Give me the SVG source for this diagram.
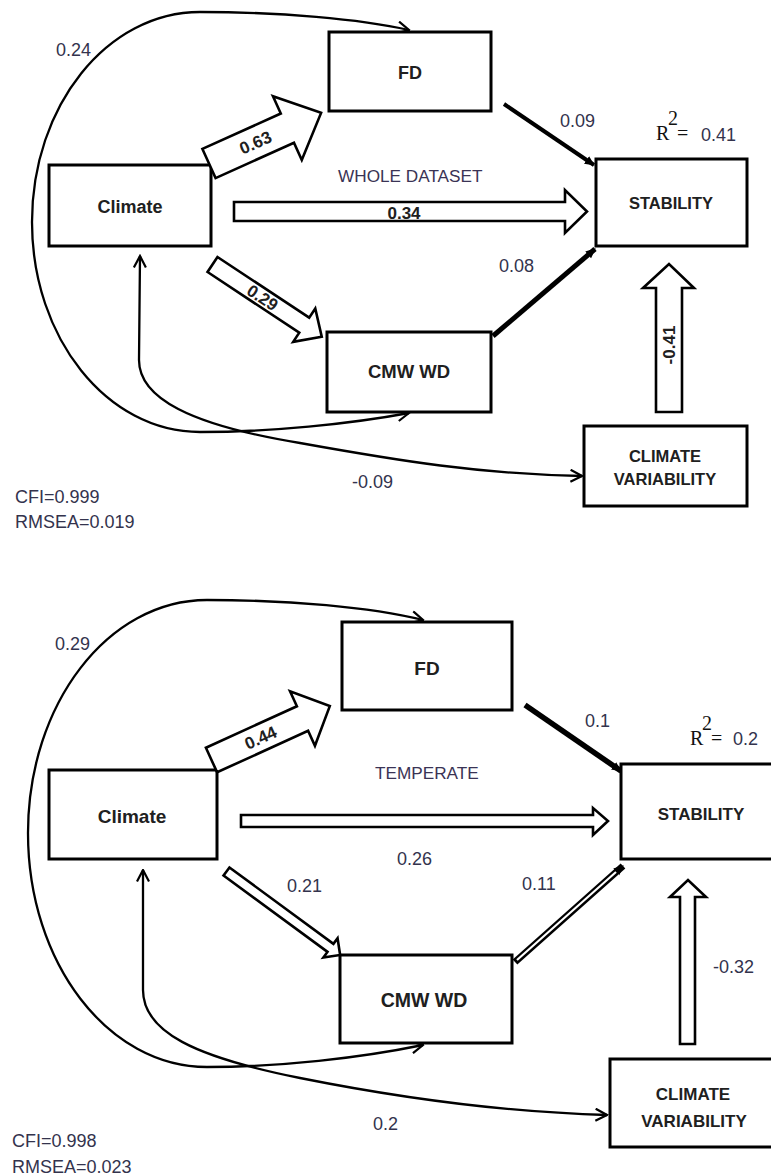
<svg xmlns="http://www.w3.org/2000/svg" width="771" height="1176" viewBox="0 0 771 1176">
<style>
.t{font-family:"Liberation Sans",Arial,sans-serif;font-size:18px;fill:#33334d}
.h{font-family:"Liberation Sans",Arial,sans-serif;font-size:17.2px;fill:#3a3355}
.b{font-family:"Liberation Sans",Arial,sans-serif;font-weight:bold;fill:#202020;text-anchor:middle}
.ab{font-family:"Liberation Sans",Arial,sans-serif;font-weight:bold;font-size:17px;fill:#202020;text-anchor:middle}
.s{font-family:"Liberation Serif","Times New Roman",serif;font-size:20px;fill:#111}
.box{fill:#fff;stroke:#000;stroke-width:3}
.blk{fill:#fff;stroke:#000;stroke-width:2.6;stroke-linejoin:miter}
.cur{fill:none;stroke:#000;stroke-width:2.3}
</style>
<defs>
<marker id="open" viewBox="0 0 14 14" refX="12.5" refY="7" markerWidth="14" markerHeight="14" markerUnits="userSpaceOnUse" orient="auto-start-reverse">
<path d="M1,1 L12.5,7 L1,13" fill="none" stroke="#000" stroke-width="2.2"/>
</marker>
<marker id="tip" viewBox="0 0 10 10" refX="9" refY="5" markerWidth="10" markerHeight="10" markerUnits="userSpaceOnUse" orient="auto">
<path d="M0,0.5 L10,5 L0,9.5 z" fill="#000"/>
</marker>
</defs>
<rect width="771" height="1176" fill="#fff"/>

<g id="connectors">
<path class="cur" d="M 409,413 C 350,424 270,432 200,432 C 107,432 32,338 32,222 C 32,106 107,12 200,12 C 280,12 360,19 409,30" marker-start="url(#open)" marker-end="url(#open)"/>
<path class="cur" d="M 140,256 L 139,360 C 139,398 190,425 300,443 C 400,461 480,474 582,476" marker-start="url(#open)" marker-end="url(#open)"/>
<line x1="504" y1="104" x2="594" y2="165" stroke="#000" stroke-width="4" marker-end="url(#tip)"/>
<line x1="493" y1="336" x2="595" y2="249" stroke="#000" stroke-width="5" marker-end="url(#tip)"/>
<path class="cur" d="M 423,1045 C 360,1058 280,1067 207,1067 C 108,1067 28,963 28,833 C 28,704 108,600 207,600 C 290,600 370,607 423,620" marker-start="url(#open)" marker-end="url(#open)"/>
<path class="cur" d="M 143,870 L 143,990 C 143,1032 195,1057 300,1078 C 400,1098 500,1112 607,1115" marker-start="url(#open)" marker-end="url(#open)"/>
<line x1="525" y1="705" x2="621" y2="771" stroke="#000" stroke-width="5.5" marker-end="url(#tip)"/>
<line x1="515" y1="962" x2="623" y2="866" stroke="#000" stroke-width="7" marker-end="url(#tip)"/>
<line x1="517" y1="960" x2="616" y2="872" stroke="#fff" stroke-width="2.2"/>
</g>

<g id="node-climate-top">
<rect class="box" x="49" y="165" width="162" height="81"/>
<text class="b" x="130" y="213" font-size="18">Climate</text>
</g>
<g id="node-fd-top">
<rect class="box" x="329" y="32" width="162" height="79"/>
<text class="b" x="410" y="79" font-size="18">FD</text>
</g>
<g id="node-stability-top">
<rect class="box" x="596" y="159" width="151" height="87"/>
<text class="b" x="671" y="209" font-size="16.5">STABILITY</text>
</g>
<g id="node-cmwwd-top">
<rect class="box" x="327" y="332" width="164" height="80"/>
<text class="b" x="409" y="378" font-size="18.5">CMW WD</text>
</g>
<g id="node-climvar-top">
<rect class="box" x="584" y="426" width="163" height="80"/>
<text class="b" x="665" y="462" font-size="16.5">CLIMATE</text>
<text class="b" x="665" y="485" font-size="16.5">VARIABILITY</text>
</g>

<g id="block-arrows-top">
<g transform="translate(209,163.5) rotate(-24.3)">
<polygon class="blk" points="0,-16 86,-16 86,-35 123,0 86,35 86,16 0,16"/>
<text class="ab" x="51" y="6">0.63</text>
</g>
<polygon class="blk" points="234,202 565,202 565,190 587,211.5 565,233 565,221 234,221"/>
<text class="ab" x="404" y="219">0.34</text>
<g transform="translate(212.5,264.5) rotate(33.5)">
<polygon class="blk" points="0,-9 110,-9 110,-20 131,0 110,20 110,9 0,9"/>
<text class="ab" x="60" y="6">0.29</text>
</g>
<polygon class="blk" points="656,412 656,288 643,288 669,264 694,288 682,288 682,412"/>
<text class="ab" transform="translate(675,345) rotate(-90)" x="0" y="0">-0.41</text>
</g>

<g id="labels-top">
<text class="t" x="56" y="56">0.24</text>
<text class="t" x="560" y="127">0.09</text>
<text class="t" x="499" y="272">0.08</text>
<text class="t" x="352" y="488">-0.09</text>
<text class="h" x="338" y="182">WHOLE DATASET</text>
<text class="s" x="656" y="140">R</text>
<text class="s" x="668" y="125" font-size="12">2</text>
<text class="s" x="677" y="140">=</text>
<text class="t" x="701" y="141">0.41</text>
<text class="t" x="15" y="503">CFI=0.999</text>
<text class="t" x="15" y="528">RMSEA=0.019</text>
</g>

<g id="node-climate-bottom">
<rect class="box" x="49" y="770" width="168" height="89"/>
<text class="b" x="132" y="823" font-size="19">Climate</text>
</g>
<g id="node-fd-bottom">
<rect class="box" x="342" y="622" width="170" height="88"/>
<text class="b" x="427" y="675" font-size="19">FD</text>
</g>
<g id="node-stability-bottom">
<rect class="box" x="621" y="764" width="160" height="95"/>
<text class="b" x="701" y="820" font-size="17">STABILITY</text>
</g>
<g id="node-cmwwd-bottom">
<rect class="box" x="340" y="955" width="172" height="88"/>
<text class="b" x="424" y="1007" font-size="19.5">CMW WD</text>
</g>
<g id="node-climvar-bottom">
<rect class="box" x="610" y="1059" width="171" height="88"/>
<text class="b" x="693" y="1100" font-size="17">CLIMATE</text>
<text class="b" x="694" y="1127" font-size="17">VARIABILITY</text>
</g>

<g id="block-arrows-bottom">
<g transform="translate(211.5,760) rotate(-24.5)">
<polygon class="blk" points="0,-13.5 100,-13.5 100,-30 130,0 100,30 100,13.5 0,13.5"/>
<text class="ab" x="54" y="6">0.44</text>
</g>
<polygon class="blk" points="241,815 593,815 593,808 608,821 593,835 593,827 241,827"/>
<g transform="translate(226.5,871.5) rotate(36.3)">
<polygon class="blk" points="0,-5 129,-5 129,-12 141,0 129,12 129,5 0,5"/>
</g>
<polygon class="blk" points="680,1044 680,897 670,897 688,880 706,897 695,897 695,1044"/>
</g>

<g id="labels-bottom">
<text class="t" x="55" y="650" font-size="18.5">0.29</text>
<text class="t" x="585" y="727" font-size="18.5">0.1</text>
<text class="h" x="375" y="779">TEMPERATE</text>
<text class="t" x="397" y="865" font-size="18.5">0.26</text>
<text class="t" x="287" y="892" font-size="18.5">0.21</text>
<text class="t" x="522" y="890" font-size="18.5">0.11</text>
<text class="t" x="713" y="973" font-size="18.5">-0.32</text>
<text class="t" x="373" y="1130" font-size="18.5">0.2</text>
<text class="s" x="690" y="745">R</text>
<text class="s" x="702" y="730" font-size="12">2</text>
<text class="s" x="711" y="745">=</text>
<text class="t" x="733" y="745" font-size="18.5">0.2</text>
<text class="t" x="12" y="1147" font-size="18.5">CFI=0.998</text>
<text class="t" x="12" y="1173" font-size="18.5">RMSEA=0.023</text>
</g>
</svg>
